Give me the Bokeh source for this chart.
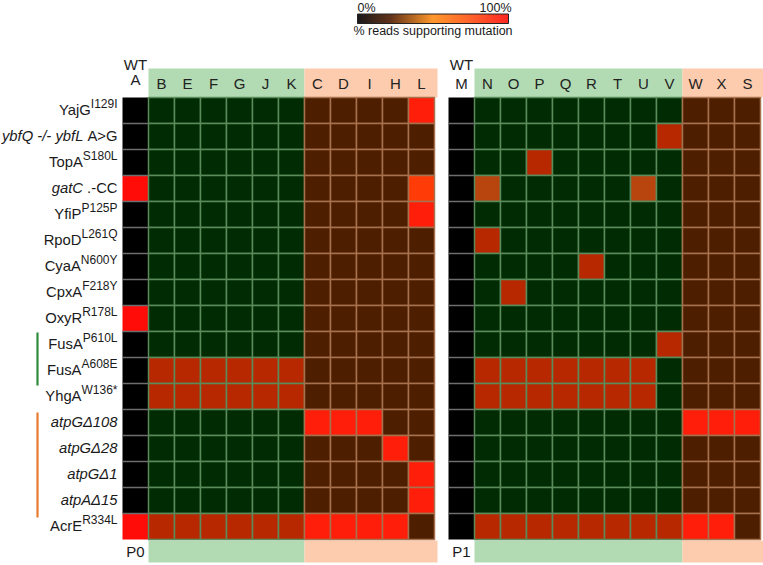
import numpy as np
from bokeh.plotting import figure
from bokeh.models import Range1d, ColumnDataSource
from bokeh.embed import file_html
from bokeh.resources import INLINE
from bokeh.core.properties import value

# ---------------- data ----------------
ROW_LABELS = [
    [("YajG", "n"), ("I129I", "s")],
    [("ybfQ -/- ybfL", "i"), (" A>G", "n")],
    [("TopA", "n"), ("S180L", "s")],
    [("gatC", "i"), (" .-CC", "n")],
    [("YfiP", "n"), ("P125P", "s")],
    [("RpoD", "n"), ("L261Q", "s")],
    [("CyaA", "n"), ("N600Y", "s")],
    [("CpxA", "n"), ("F218Y", "s")],
    [("OxyR", "n"), ("R178L", "s")],
    [("FusA", "n"), ("P610L", "s")],
    [("FusA", "n"), ("A608E", "s")],
    [("YhgA", "n"), ("W136*", "s")],
    [("atpGΔ108", "i")],
    [("atpGΔ28", "i")],
    [("atpGΔ1", "i")],
    [("atpAΔ15", "i")],
    [("AcrE", "n"), ("R334L", "s")],
]

# panel P0
P0_WT = ["A"]
P0_GREEN = ["B", "E", "F", "G", "J", "K"]
P0_ORANGE = ["C", "D", "I", "H", "L"]
# panel P1
P1_WT = ["M"]
P1_GREEN = ["N", "O", "P", "Q", "R", "T", "U", "V"]
P1_ORANGE = ["W", "X", "S"]

# fraction of reads supporting each mutation (rows follow ROW_LABELS)
A = [0, 0, 0, 1, 0, 0, 0, 0, 1, 0, 0, 0, 0, 0, 0, 0, 1]
B = [0, 0, 0, 0, 0, 0, 0, 0, 0, 0, .7, .7, 0, 0, 0, 0, .7]
E = [0, 0, 0, 0, 0, 0, 0, 0, 0, 0, .7, .7, 0, 0, 0, 0, .7]
F = [0, 0, 0, 0, 0, 0, 0, 0, 0, 0, .7, .7, 0, 0, 0, 0, .7]
G = [0, 0, 0, 0, 0, 0, 0, 0, 0, 0, .7, .7, 0, 0, 0, 0, .7]
J = [0, 0, 0, 0, 0, 0, 0, 0, 0, 0, .7, .7, 0, 0, 0, 0, .7]
K = [0, 0, 0, 0, 0, 0, 0, 0, 0, 0, .7, .7, 0, 0, 0, 0, .7]
C = [0, 0, 0, 0, 0, 0, 0, 0, 0, 0, 0, 0, 1, 0, 0, 0, 1]
D = [0, 0, 0, 0, 0, 0, 0, 0, 0, 0, 0, 0, 1, 0, 0, 0, 1]
I = [0, 0, 0, 0, 0, 0, 0, 0, 0, 0, 0, 0, 1, 0, 0, 0, 1]
H = [0, 0, 0, 0, 0, 0, 0, 0, 0, 0, 0, 0, 0, 1, 0, 0, 1]
L = [1, 0, 0, .9, 1, 0, 0, 0, 0, 0, 0, 0, 0, 0, 1, 1, 0]

M = [0, 0, 0, 0, 0, 0, 0, 0, 0, 0, 0, 0, 0, 0, 0, 0, 0]
N = [0, 0, 0, .6, 0, .7, 0, 0, 0, 0, .7, .7, 0, 0, 0, 0, .7]
O = [0, 0, 0, 0, 0, 0, 0, .7, 0, 0, .7, .7, 0, 0, 0, 0, .7]
P = [0, 0, .7, 0, 0, 0, 0, 0, 0, 0, .7, .7, 0, 0, 0, 0, .7]
Q = [0, 0, 0, 0, 0, 0, 0, 0, 0, 0, .7, .7, 0, 0, 0, 0, .7]
R = [0, 0, 0, 0, 0, 0, .7, 0, 0, 0, .7, .7, 0, 0, 0, 0, .7]
T = [0, 0, 0, 0, 0, 0, 0, 0, 0, 0, .7, .7, 0, 0, 0, 0, .7]
U = [0, 0, 0, .6, 0, 0, 0, 0, 0, 0, .7, .7, 0, 0, 0, 0, .7]
V = [0, .7, 0, 0, 0, 0, 0, 0, 0, .7, 0, 0, 0, 0, 0, 0, .7]
W = [0, 0, 0, 0, 0, 0, 0, 0, 0, 0, 0, 0, 1, 0, 0, 0, 1]
X = [0, 0, 0, 0, 0, 0, 0, 0, 0, 0, 0, 0, 1, 0, 0, 0, 1]
S = [0, 0, 0, 0, 0, 0, 0, 0, 0, 0, 0, 0, 1, 0, 0, 0, 0]

COLUMN_VALUES = dict(A=A, B=B, E=E, F=F, G=G, J=J, K=K, C=C, D=D, I=I, H=H, L=L,
                     M=M, N=N, O=O, P=P, Q=Q, R=R, T=T, U=U, V=V, W=W, X=X, S=S)

PANEL_NAMES = ["P0", "P1"]
WT_LABEL = "WT"
CBAR_LEFT, CBAR_RIGHT = "0%", "100%"
CBAR_TITLE = "% reads supporting mutation"

# ---------------- style ----------------
FONT = "Liberation Sans"
BG = {"wt": "#000000", "green": "#012b03", "orange": "#4d1f00"}
GRID = {"wt": "#6e6e6e", "green": "#5b8a5b", "orange": "#a7714e"}
BAND = {"green": "#b3dbb3", "orange": "#fdccae"}
TEXT = "#1a1a1a"

def cell_color(v, group):
    if v <= 0:
        return BG[group]
    if v >= 1:
        return "#ff0c08" if group == "wt" else "#ff1e0a"
    if v >= .85:
        return "#ff3c08"
    if v >= .65:
        return "#b72800"
    return "#b8450e"

ARIAL = {' ': 278, '!': 278, '%': 889, '*': 389, '-': 333, '.': 278, '/': 278, '>': 584,
         'Δ': 612}
for ch in "0123456789":
    ARIAL[ch] = 556
ARIAL.update(dict(zip("ABCDEFGHIJKLMNOPQRSTUVWXYZ",
                      [667, 667, 722, 722, 667, 611, 778, 722, 278, 500, 667, 556, 833,
                       722, 778, 667, 778, 722, 667, 611, 722, 667, 944, 667, 667, 611])))
ARIAL.update(dict(zip("abcdefghijklmnopqrstuvwxyz",
                      [556, 556, 500, 556, 556, 278, 556, 556, 222, 222, 500, 222, 833,
                       556, 556, 556, 556, 333, 500, 278, 556, 500, 722, 500, 500, 500])))

def text_width(s, size):
    return sum(ARIAL.get(ch, 556) for ch in s) * size / 1000.0

# ---------------- layout (page pixel space) ----------------
CW, RH = 26.0, 26.0
Y0 = 97.0
HEAD_TOP = 68.0
PANEL_X = [122.0, 448.0]
LABEL_RIGHT = 117.0
MAIN_SIZE, SUP_SIZE = 14.8, 12.0

p = figure(width=763, height=565, x_range=Range1d(0, 763), y_range=Range1d(565, 0),
           output_backend="svg", toolbar_location=None, min_border=0,
           x_axis_location=None, y_axis_location=None)
p.grid.visible = False
p.outline_line_color = None
p.background_fill_color = "white"
p.border_fill_color = "white"

nrows = len(ROW_LABELS)
y_bottom = Y0 + nrows * RH

panels = [(P0_WT, P0_GREEN, P0_ORANGE), (P1_WT, P1_GREEN, P1_ORANGE)]

cells = dict(left=[], right=[], top=[], bottom=[], fill=[], line=[], lw=[])
bands = dict(left=[], right=[], top=[], bottom=[], fill=[])
hdr = dict(x=[], y=[], text=[])
wt_sep = dict(x0=[], x1=[], y0=[], y1=[])

for pi, (wt, green, orange) in enumerate(panels):
    x0 = PANEL_X[pi]
    cols = [(c, "wt") for c in wt] + [(c, "green") for c in green] + [(c, "orange") for c in orange]
    for k, (cname, grp) in enumerate(cols):
        vals = COLUMN_VALUES[cname]
        xl = x0 + k * CW
        for r, v in enumerate(vals):
            cells["left"].append(xl)
            cells["right"].append(xl + CW)
            cells["top"].append(Y0 + r * RH)
            cells["bottom"].append(Y0 + (r + 1) * RH)
            cells["fill"].append(cell_color(v, grp))
            cells["line"].append(None if grp == "wt" else GRID[grp])
            cells["lw"].append(1.5)
        if grp == "wt":
            for r in range(1, nrows):
                wt_sep["x0"].append(xl)
                wt_sep["x1"].append(xl + CW)
                wt_sep["y0"].append(Y0 + r * RH)
                wt_sep["y1"].append(Y0 + r * RH)
            hdr["x"].append(xl + CW / 2)
            hdr["y"].append(64.0)
            hdr["text"].append(WT_LABEL)
            hdr["x"].append(xl + CW / 2)
            hdr["y"].append(79.0 if pi == 0 else 83.0)
            hdr["text"].append(cname)
        else:
            hdr["x"].append(xl + CW / 2)
            hdr["y"].append(83.0)
            hdr["text"].append(cname)
    g0 = x0 + len(wt) * CW
    g1 = g0 + len(green) * CW
    o1 = g1 + len(orange) * CW + (3.0 if pi == 0 else 6.0)
    for (bt, bb) in [(HEAD_TOP, Y0), (y_bottom + 1.0, y_bottom + 23.0)]:
        bands["left"] += [g0, g1]
        bands["right"] += [g1, o1]
        bands["top"] += [bt, bt]
        bands["bottom"] += [bb, bb]
        bands["fill"] += [BAND["green"], BAND["orange"]]
    p.text(x=[x0 + CW / 2], y=[y_bottom + 12], text=[PANEL_NAMES[pi]], text_align="center",
           text_baseline="middle", text_font=value(FONT), text_font_size=value("15px"),
           text_color=TEXT)

p.quad(left="left", right="right", top="top", bottom="bottom", fill_color="fill",
       line_color=None, source=ColumnDataSource(bands))
p.quad(left="left", right="right", top="top", bottom="bottom", fill_color="fill",
       line_color="line", line_width="lw", source=ColumnDataSource(cells))
p.segment(x0="x0", x1="x1", y0="y0", y1="y1", line_color=GRID["wt"], line_width=1.5,
          source=ColumnDataSource(wt_sep))
p.text(x="x", y="y", text="text", text_align="center", text_baseline="middle",
       text_font=value(FONT), text_font_size=value("15px"), text_color="#222222",
       source=ColumnDataSource(hdr))

# row labels with mixed styles
lab = {"n": dict(x=[], y=[], text=[]), "i": dict(x=[], y=[], text=[]), "s": dict(x=[], y=[], text=[])}
for r, segs in enumerate(ROW_LABELS):
    yc = Y0 + (r + 0.5) * RH
    xr = LABEL_RIGHT
    for txt, kind in reversed(segs):
        size = SUP_SIZE if kind == "s" else MAIN_SIZE
        w = text_width(txt, size)
        lab[kind]["x"].append(xr)
        lab[kind]["y"].append(yc - 6.5 if kind == "s" else yc - 0.5)
        lab[kind]["text"].append(txt.strip())
        xr -= w
for kind, style, size in [("n", "normal", MAIN_SIZE), ("i", "italic", MAIN_SIZE), ("s", "normal", SUP_SIZE)]:
    p.text(x="x", y="y", text="text", text_align="right", text_baseline="middle",
           text_font=value(FONT), text_font_size=value(f"{size}px"), text_font_style=style,
           text_color=TEXT, source=ColumnDataSource(lab[kind]))

# group brackets on the left
p.segment(x0=[37, 37], x1=[37, 37], y0=[Y0 + 9 * RH + 1, Y0 + 12 * RH + 3],
          y1=[Y0 + 11 * RH + 2, Y0 + 16 * RH + 4], line_color=["#2e8b3a", "#e87a30"], line_width=2.2)

# colour bar
CB_X0, CB_X1, CB_Y0, CB_Y1 = 357.0, 508.0, 13.5, 23.0
stops = [(0.0, (0, 0, 0)), (0.22, (80, 28, 0)), (0.5, (255, 140, 20)), (0.75, (255, 80, 20)), (1.0, (255, 16, 10))]
n = 151
cb = dict(left=[], right=[], fill=[])
for i in range(n):
    t = (i + 0.5) / n
    for j in range(len(stops) - 1):
        if stops[j][0] <= t <= stops[j + 1][0]:
            a, ca = stops[j]
            b, cbc = stops[j + 1]
            f = (t - a) / (b - a)
            rgb = tuple(int(round(ca[m] + (cbc[m] - ca[m]) * f)) for m in range(3))
            break
    cb["left"].append(CB_X0 + i * (CB_X1 - CB_X0) / n)
    cb["right"].append(CB_X0 + (i + 1) * (CB_X1 - CB_X0) / n + 0.3)
    cb["fill"].append("#%02x%02x%02x" % rgb)
p.quad(left="left", right="right", top=CB_Y0, bottom=CB_Y1, fill_color="fill", line_color=None,
       source=ColumnDataSource(cb))
p.quad(left=[CB_X0], right=[CB_X1], top=[CB_Y0], bottom=[CB_Y1], fill_color=None,
       line_color="#222222", line_width=1)
p.text(x=[CB_X0], y=[7], text=[CBAR_LEFT], text_align="left", text_baseline="middle",
       text_font=value(FONT), text_font_size=value("12.5px"), text_color=TEXT)
p.text(x=[CB_X1 + 3], y=[7], text=[CBAR_RIGHT], text_align="right", text_baseline="middle",
       text_font=value(FONT), text_font_size=value("12.5px"), text_color=TEXT)
p.text(x=[(CB_X0 + CB_X1) / 2], y=[30], text=[CBAR_TITLE], text_align="center",
       text_baseline="middle", text_font=value(FONT), text_font_size=value("12.5px"),
       text_color=TEXT)

open("out.html", "w").write(file_html(p, INLINE))
